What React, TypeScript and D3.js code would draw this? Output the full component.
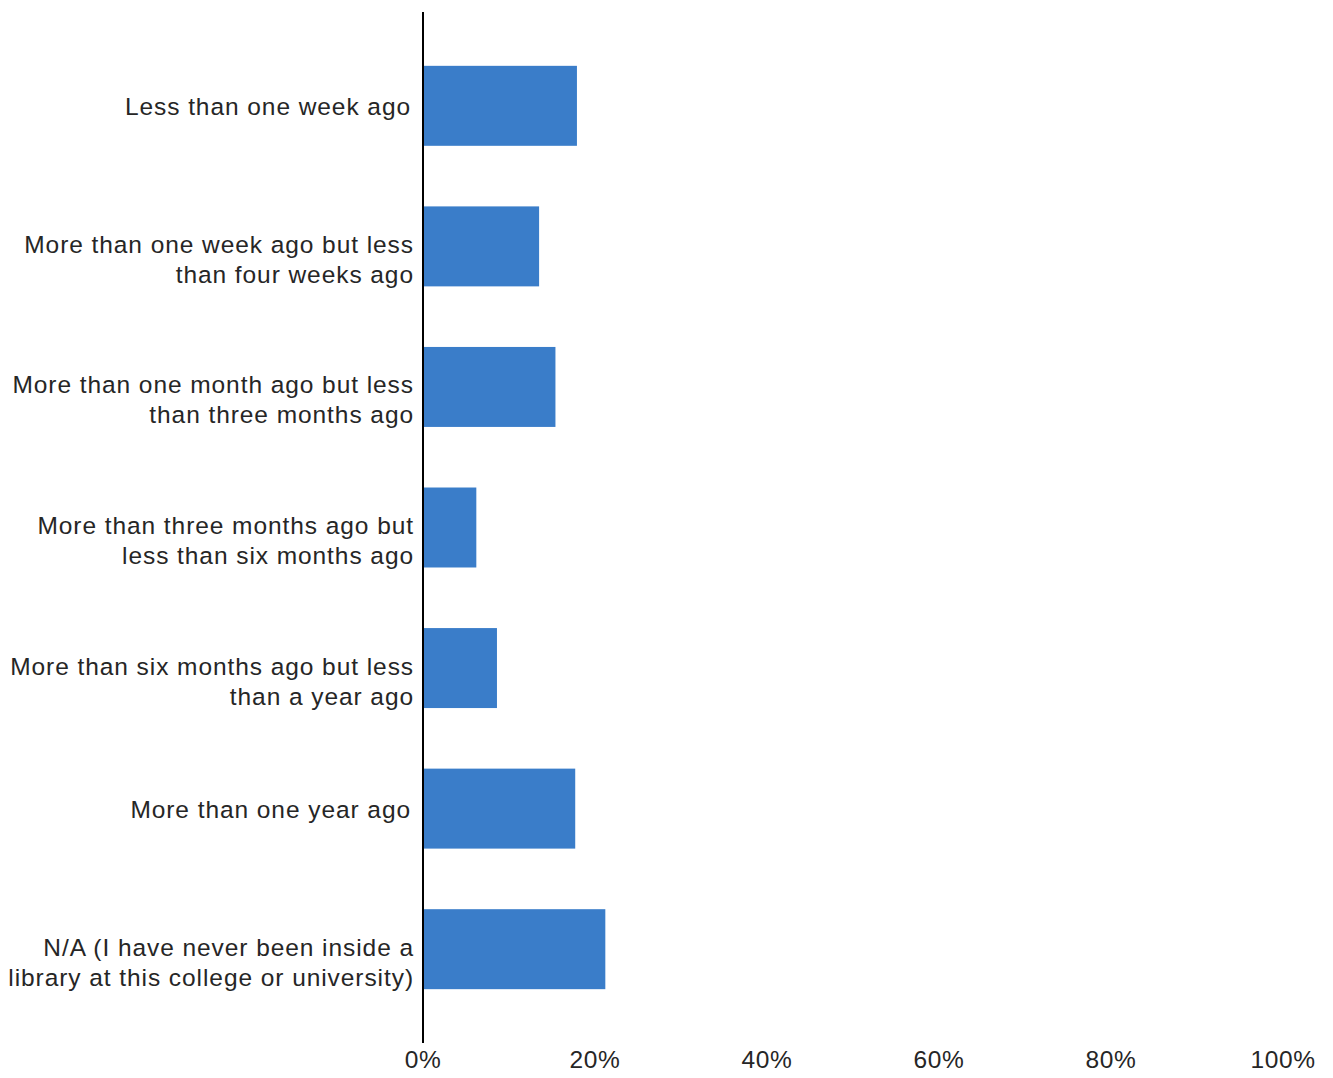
import React from "react";
import * as d3 from "d3";

const categories: string[][] = [
  ["Less than one week ago"],
  ["More than one week ago but less", "than four weeks ago"],
  ["More than one month ago but less", "than three months ago"],
  ["More than three months ago but", "less than six months ago"],
  ["More than six months ago but less", "than a year ago"],
  ["More than one year ago"],
  ["N/A (I have never been inside a", "library at this college or university)"],
];
const values: number[] = [0.179, 0.135, 0.154, 0.062, 0.086, 0.177, 0.212];
const xTicks: number[] = [0, 0.2, 0.4, 0.6, 0.8, 1.0];

const W = 1333;
const H = 1078;
const axisTop = 12;
const axisBottom = 1043;
const x0 = 423;
const x1 = 1283;
const barColor = "#3a7dc9";
const textColor = "#262626";
const font = "'Liberation Sans', Arial, sans-serif";

export default function App() {
  const keys = categories.map((c, i) => String(i));
  const y = d3
    .scaleBand<string>()
    .domain(keys)
    .range([axisTop, axisBottom])
    .paddingInner(0.431)
    .paddingOuter(0.383);
  const x = d3.scaleLinear().domain([0, 1]).range([x0, x1]);
  const fmt = d3.format(".0%");

  return (
    <svg
      width={W}
      height={H}
      style={{ position: "absolute", left: 0, top: 0, background: "#fff" }}
      fontFamily={font}
    >
      <rect x={0} y={0} width={W} height={H} fill="#fff" />
      {values.map((v, i) => (
        <rect
          key={"b" + i}
          x={x(0)}
          y={y(keys[i])!}
          width={x(v) - x(0)}
          height={y.bandwidth()}
          fill={barColor}
        />
      ))}
      {categories.map((lines, i) => {
        const c = y(keys[i])! + y.bandwidth() / 2;
        const base = lines.length === 1 ? c + 9 : c + 6.5;
        return (
          <text
            key={"l" + i}
            textAnchor="end"
            fontSize={24.5}
            letterSpacing={0.93}
            fill={textColor}
          >
            {lines.map((ln, j) => (
              <tspan key={j} x={lines.length === 1 ? 411 : 414} y={base + j * 30}>
                {ln}
              </tspan>
            ))}
          </text>
        );
      })}
      <line
        x1={x(0)}
        x2={x(0)}
        y1={axisTop}
        y2={axisBottom}
        stroke="#000"
        strokeWidth={2}
      />
      {xTicks.map((t) => (
        <text
          key={"t" + t}
          x={x(t)}
          y={1068}
          textAnchor="middle"
          fontSize={24.5}
          letterSpacing={0.6}
          fill={textColor}
        >
          {fmt(t)}
        </text>
      ))}
    </svg>
  );
}
